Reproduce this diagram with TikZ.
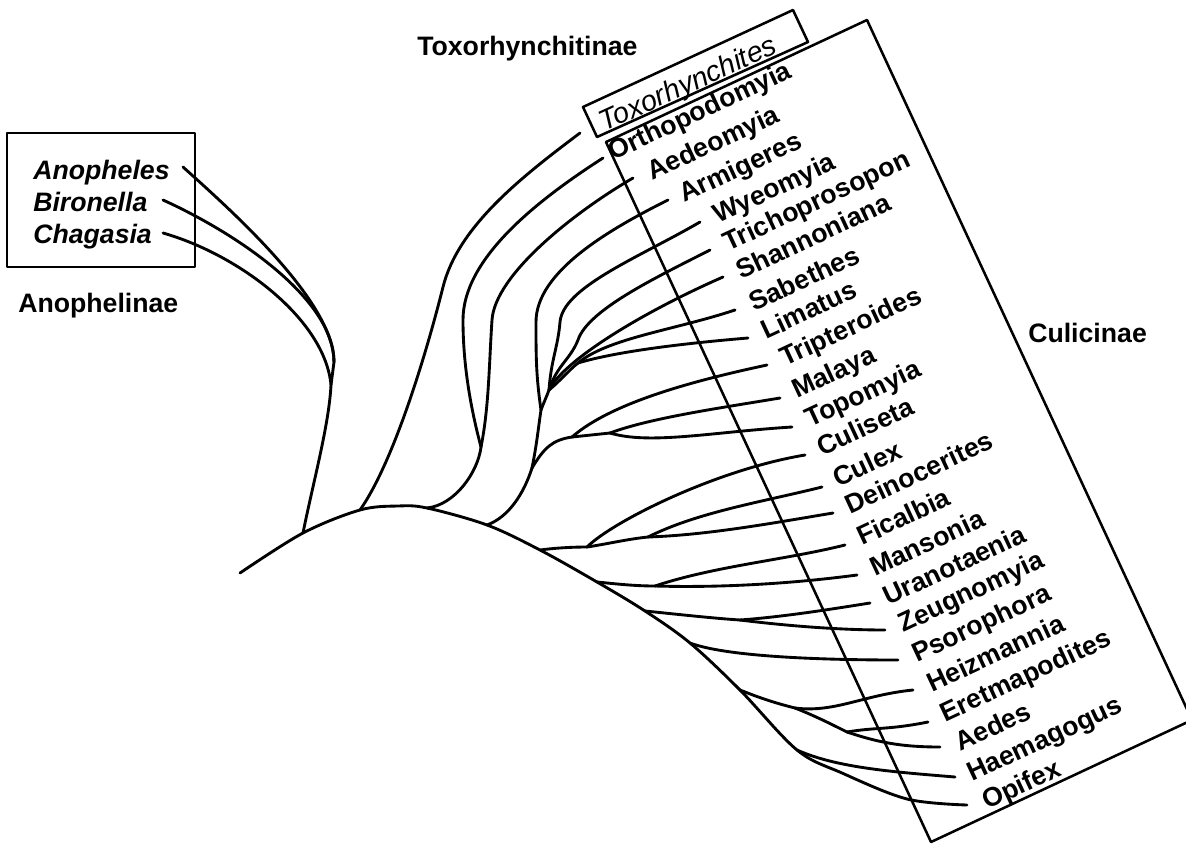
\documentclass[tikz,border=0pt]{standalone}
\usepackage{fontspec}
\setmainfont{Liberation Sans}
\begin{document}
\begin{tikzpicture}[x=0.75pt,y=-0.75pt,line cap=round,line join=round,
  br/.style={line width=2.15pt},
  frame/.style={line width=1.9pt},
  gen/.style={anchor=base west,rotate=25,inner sep=0pt,font=\fontsize{20}{24}\selectfont\bfseries},
  ano/.style={anchor=base west,inner sep=0pt,font=\fontsize{20}{24}\selectfont\bfseries\itshape},
  sub/.style={anchor=base west,inner sep=0pt,font=\fontsize{20}{24}\selectfont\bfseries}]
\clip (0,0) rectangle (1186,847);

% ---------- boxes ----------
\coordinate (aTL) at (7,133);   \coordinate (aBR) at (195,267);
\draw[frame] (aTL) rectangle (aBR);
\coordinate (xTL) at (583,107); \coordinate (xTR) at (793,10);
\coordinate (xBR) at (808,42);  \coordinate (xBL) at (597,137);
\draw[frame] (xTL) -- (xTR) -- (xBR) -- (xBL) -- cycle;
\coordinate (cTL) at (606,142); \coordinate (cTR) at (867,20);
\coordinate (cBR) at (1192,720);\coordinate (cBL) at (931,842);
\draw[frame] (cTL) -- (cTR) -- (cBR) -- (cBL) -- cycle;

% ---------- subfamily names ----------
\node[sub] (nTox) at (417,55) {Toxorhynchitinae};
\node[sub] (nAno) at (18,312) {Anophelinae};
\node[sub] (nCul) at (1028,342) {Culicinae};

% ---------- Anophelinae labels ----------
\node[ano] (lAno) at (33,179) {Anopheles};
\node[ano] (lBir) at (33,211) {Bironella};
\node[ano] (lCha) at (33,243) {Chagasia};

% ---------- Toxorhynchites (sits on the box's lower edge) ----------
\node[anchor=base west,rotate=24.5,inner sep=0pt,font=\fontsize{21.5}{24}\selectfont\itshape] (lTox) at (604,132) {Toxorhynchites};

% ---------- Culicinae labels ----------
\node[gen] (lOrt) at (613,161) {Orthopodomyia};
\node[gen] (lAed) at (652,181) {Aedeomyia};
\node[gen] (lArm) at (684,203) {Armigeres};
\node[gen] (lWye) at (718,224) {Wyeomyia};
\node[gen] (lTri) at (728,252) {Trichoprosopon};
\node[gen] (lSha) at (741,280) {Shannoniana};
\node[gen] (lSab) at (754,312) {Sabethes};
\node[gen] (lLim) at (766,340) {Limatus};
\node[gen] (lTrp) at (785,367) {Tripteroides};
\node[gen] (lMal) at (797,399) {Malaya};
\node[gen] (lTop) at (810,428) {Topomyia};
\node[gen] (lCus) at (822,457) {Culiseta};
\node[gen] (lCux) at (838,488) {Culex};
\node[gen] (lDei) at (850,515) {Deinocerites};
\node[gen] (lFic) at (862,546) {Ficalbia};
\node[gen] (lMan) at (875,577) {Mansonia};
\node[gen] (lUra) at (888,606) {Uranotaenia};
\node[gen] (lZeu) at (903,633) {Zeugnomyia};
\node[gen] (lPso) at (917,663) {Psorophora};
\node[gen] (lHei) at (932,693) {Heizmannia};
\node[gen] (lEre) at (945,723) {Eretmapodites};
\node[gen] (lAes) at (960,752) {Aedes};
\node[gen] (lHae) at (972,782) {Haemagogus};
\node[gen] (lOpi) at (987,810) {Opifex};

% ---------- tips ----------
\coordinate (tAno) at (183,167); \coordinate (tBir) at (163,200); \coordinate (tCha) at (163,233);
\coordinate (tTox) at (580,133); \coordinate (tOrt) at (603,158); \coordinate (tAed) at (633,178);
\coordinate (tArm) at (668,200); \coordinate (tWye) at (700,222); \coordinate (tTri) at (710,250);
\coordinate (tSha) at (723,277); \coordinate (tSab) at (735,310); \coordinate (tLim) at (748,338);
\coordinate (tTrp) at (767,365); \coordinate (tMal) at (780,398); \coordinate (tTop) at (792,427);
\coordinate (tCus) at (805,455); \coordinate (tCux) at (822,487); \coordinate (tDei) at (833,513);
\coordinate (tFic) at (845,545); \coordinate (tMan) at (857,575); \coordinate (tUra) at (870,603);
\coordinate (tZeu) at (885,630); \coordinate (tPso) at (898,660); \coordinate (tHei) at (913,690);
\coordinate (tEre) at (928,722); \coordinate (tAes) at (940,747); \coordinate (tHae) at (955,777);
\coordinate (tOpi) at (967,805);

% ---------- backbone ----------
\coordinate (R0) at (240,573);  \coordinate (B0) at (303,533);  \coordinate (B1) at (360,510);
\coordinate (Bp) at (398,506);  \coordinate (B2) at (427,508);  \coordinate (B3) at (487,525);
\coordinate (B4) at (540,550);  \coordinate (B5) at (597,582);  \coordinate (B6) at (645,611);
\coordinate (B7) at (690,643);  \coordinate (B8) at (740,690);  \coordinate (B9) at (797,750);
\coordinate (B10) at (842,773); \coordinate (B11) at (907,799);
\draw[br] plot[smooth,tension=0.55] coordinates {(R0) (B0) (B1) (Bp) (B2) (B3) (B4) (B5) (B6) (B7) (B8) (B9) (B10) (B11) (tOpi)};

% ---------- Anophelinae ----------
\coordinate (A2) at (331,385); \coordinate (A1) at (334,362);
\draw[br] (B0) .. controls +(10,-50) and +(-2,40) .. (A2) -- (A1);
\draw[br] (A1) .. controls +(0,-60) and +(50,45) .. (tAno);
\draw[br] (A1) .. controls +(0,-62) and +(77,35) .. (tBir);
\draw[br] (A2) .. controls +(-6,-65) and +(77,22) .. (tCha);

% ---------- Toxorhynchites ----------
\coordinate (Tb) at (443,287);
\draw[br] (B1) .. controls +(35,-50) and +(-15,60) .. (Tb) .. controls +(15,-60) and +(-60,45) .. (tTox);

% ---------- Orthopodomyia / Aedeomyia ----------
\coordinate (N1) at (481,447); \coordinate (Ob) at (463,320); \coordinate (Eb) at (492,320);
\draw[br] (B2) .. controls +(28,-3) and +(-3,25) .. (N1);
\draw[br] (N1) .. controls +(-12,-45) and +(0,40) .. (Ob) .. controls +(0,-60) and +(-70,45) .. (tOrt);
\draw[br] (N1) .. controls +(8,-40) and +(-3,45) .. (Eb) .. controls +(3,-45) and +(-60,35) .. (tAed);

% ---------- Armigeres + Sabethini ----------
\coordinate (S1) at (532,468); \coordinate (G1) at (541,410); \coordinate (G2) at (549,390);
\coordinate (G3) at (578,363); \coordinate (M1) at (572,437); \coordinate (M2) at (610,433);
\coordinate (Ab) at (536,322); \coordinate (Wb) at (560,322); \coordinate (Cb) at (578,340);
\draw[br] (B3) .. controls +(22,-8) and +(-8,25) .. (S1);
\draw[br] (S1) .. controls +(5,-25) and +(-3,20) .. (G1);
\draw[br] (S1) .. controls +(12,-20) and +(-20,3) .. (M1);
\draw[br] (G1) .. controls +(-5,-35) and +(0,35) .. (Ab) .. controls +(0,-50) and +(-60,30) .. (tArm);
\draw[br] (G1) .. controls +(3,-8) and +(-3,8) .. (G2);
\draw[br] (G2) .. controls +(2,-30) and +(-2,25) .. (Wb) .. controls +(3,-35) and +(-60,35) .. (tWye);
\draw[br] (G2) .. controls +(8,-25) and +(-8,20) .. (Cb) .. controls +(10,-30) and +(-55,28) .. (tTri);
\draw[br] (G2) .. controls +(15,-30) and +(-80,35) .. (tSha);
\draw[br] (G2) .. controls +(10,-8) and +(-10,8) .. (G3);
\draw[br] (G3) .. controls +(30,-25) and +(-60,20) .. (tSab);
\draw[br] (G3) .. controls +(40,-12) and +(-60,5) .. (tLim);
\draw[br] (M1) .. controls +(40,-35) and +(-70,15) .. (tTrp);
\draw[br] (M1) -- (M2);
\draw[br] (M2) .. controls +(40,-15) and +(-60,10) .. (tMal);
\draw[br] (M2) .. controls +(40,12) and +(-80,5) .. (tTop);

% ---------- Culiseta, Culex, Deinocerites ----------
\coordinate (C1) at (587,547); \coordinate (C2) at (648,537);
\draw[br] (B4) .. controls +(15,-2) and +(-15,0) .. (C1);
\draw[br] (C1) .. controls +(25,-25) and +(-90,15) .. (tCus);
\draw[br] (C1) .. controls +(20,-3) and +(-20,2) .. (C2);
\draw[br] (C2) .. controls +(50,-25) and +(-60,15) .. (tCux);
\draw[br] (C2) .. controls +(60,-2) and +(-60,10) .. (tDei);

% ---------- Ficalbia, Mansonia ----------
\coordinate (D2) at (655,586);
\draw[br] (B5) .. controls +(20,2) and +(-20,0) .. (D2);
\draw[br] (D2) .. controls +(60,-20) and +(-60,15) .. (tFic);
\draw[br] (D2) .. controls +(70,2) and +(-60,8) .. (tMan);

% ---------- Uranotaenia, Zeugnomyia ----------
\coordinate (E2) at (740,620);
\draw[br] (B6) .. controls +(30,3) and +(-30,-2) .. (E2);
\draw[br] (E2) .. controls +(40,-3) and +(-50,8) .. (tUra);
\draw[br] (E2) .. controls +(40,5) and +(-50,0) .. (tZeu);

% ---------- Aedini ----------
\coordinate (H) at (795,708); \coordinate (Q) at (847,732);
\draw[br] (B7) .. controls +(40,15) and +(-60,0) .. (tPso);
\draw[br] (B8) .. controls +(20,8) and +(-20,-5) .. (H);
\draw[br] (H) .. controls +(40,5) and +(-50,5) .. (tHei);
\draw[br] (H) .. controls +(20,8) and +(-20,-10) .. (Q);
\draw[br] (Q) .. controls +(30,-5) and +(-40,8) .. (tEre);
\draw[br] (Q) .. controls +(30,10) and +(-40,0) .. (tAes);
\draw[br] (B9) .. controls +(40,18) and +(-60,-5) .. (tHae);
\end{tikzpicture}
\end{document}
